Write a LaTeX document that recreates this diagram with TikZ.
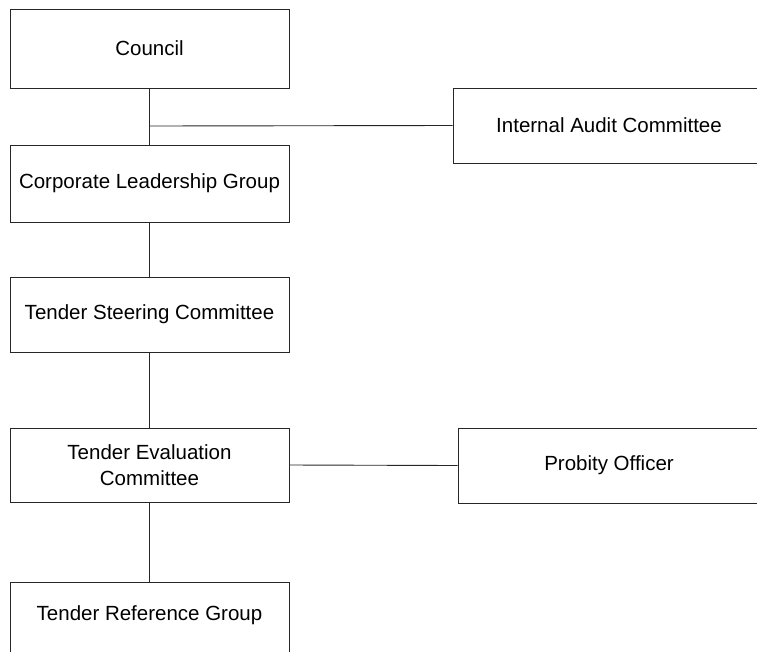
\documentclass[tikz,border=0pt]{standalone}
\usepackage{fontspec}
\setmainfont{Liberation Sans}
\begin{document}
\begin{tikzpicture}[x=1pt,y=-1pt,
  orgbox/.style={draw=black!85, line width=0.9pt, rectangle, inner sep=0pt, font=\fontsize{20.5}{26}\selectfont, align=center},
  plain/.style={inner sep=0pt, font=\fontsize{20.5}{26}\selectfont, align=center},
  conn/.style={draw=black!85, line width=0.9pt}]
\useasboundingbox (0,0) rectangle (757,651);
\clip (0,0) rectangle (757,651);
\node[orgbox, minimum width=279pt, minimum height=79pt] (council) at (149.5,48.5) {Council};
\node[orgbox, minimum width=312pt, minimum height=75pt] (iac) at (609,125.5) {Internal Audit Committee};
\node[orgbox, minimum width=279pt, minimum height=77pt] (clg) at (149.5,183.5) {Corporate Leadership Group};
\node[orgbox, minimum width=279pt, minimum height=75pt] (tsc) at (149.5,314.5) {Tender Steering Committee};
\node[orgbox, minimum width=279pt, minimum height=74pt] (tec) at (149.5,465) {Tender Evaluation\\Committee};
\node[orgbox, minimum width=302pt, minimum height=75pt] (po) at (609,465.5) {Probity Officer};
\node[orgbox, minimum width=279pt, minimum height=84pt] (trg) at (149.5,624) {};
\node[plain] (trgl) at (149.5,615) {Tender Reference Group};
\coordinate (j) at (150,126);
\draw[conn] (council.south) -- (clg.north);
\draw[conn] (j) -- (iac.west);
\draw[conn] (clg.south) -- (tsc.north);
\draw[conn] (tsc.south) -- (tec.north);
\draw[conn] (tec.east) -- (po.west);
\draw[conn] (tec.south) -- (trg.north);
\end{tikzpicture}
\end{document}
